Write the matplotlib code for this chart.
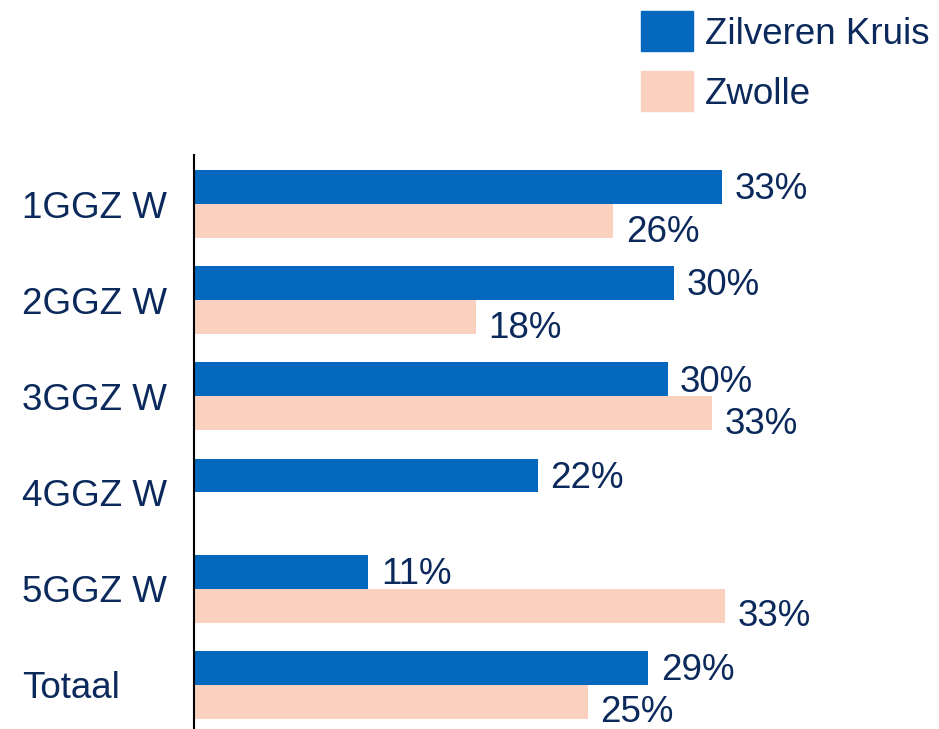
import matplotlib
matplotlib.use("Agg")
import matplotlib.pyplot as plt
import numpy as np
from matplotlib.patches import Rectangle

categories = ["1GGZ W", "2GGZ W", "3GGZ W", "4GGZ W", "5GGZ W", "Totaal"]
zilveren = [33.0, 30.0, 29.6, 21.5, 10.9, 28.4]
zwolle = [26.2, 17.6, 32.4, 0.0, 33.2, 24.6]
zilveren_labels = ["33%", "30%", "30%", "22%", "11%", "29%"]
zwolle_labels = ["26%", "18%", "33%", "", "33%", "25%"]
series_names = ["Zilveren Kruis", "Zwolle"]

BLUE = "#0368BE"
PINK = "#FAD0BE"
TXT = "#0B2A5B"
FS = 26.5

plt.rcParams['font.family'] = ['Liberation Sans', 'DejaVu Sans']

fig = plt.figure(figsize=(9.39, 7.29), dpi=100)
ax = fig.add_axes([194/939, 0.0, 640/939, 1 - 155/729])

y = np.arange(len(categories))
h = 0.353
b1 = ax.barh(y - h/2, zilveren, height=h, color=BLUE)
b2 = ax.barh(y + h/2, zwolle, height=h, color=PINK)

for bars, labs, dy in ((b1, zilveren_labels, -2), (b2, zwolle_labels, -8)):
    for bar, lab in zip(bars, labs):
        if not lab:
            continue
        ax.annotate(lab, (bar.get_width(), bar.get_y() + bar.get_height()/2),
                    xytext=(9, dy), textcoords="offset points",
                    ha="left", va="center", fontsize=FS, color=TXT)

ax.set_xlim(0, 40)
ax.set_ylim(5.46, -0.51)
ax.set_yticks(y)
ax.set_yticklabels(categories, fontsize=FS, color=TXT)
for lab in ax.get_yticklabels():
    lab.set_horizontalalignment("left")
ax.tick_params(axis="y", length=0, pad=172/1.389)
ax.set_xticks([])
for s in ("top", "right", "bottom"):
    ax.spines[s].set_visible(False)
ax.spines["left"].set_linewidth(1.5)
ax.spines["left"].set_color("black")

# legend
W, H = 939, 729
for i, (name, col) in enumerate(zip(series_names, [BLUE, PINK])):
    top = 11 + i*60
    fig.add_artist(Rectangle((641/W, 1 - (top+40)/H), 52/W, 40/H,
                             transform=fig.transFigure, color=col))
    fig.text(705/W, 1 - (top+23)/H, name, fontsize=FS, color=TXT,
             ha="left", va="center")

fig.savefig("out.png", dpi=100)
